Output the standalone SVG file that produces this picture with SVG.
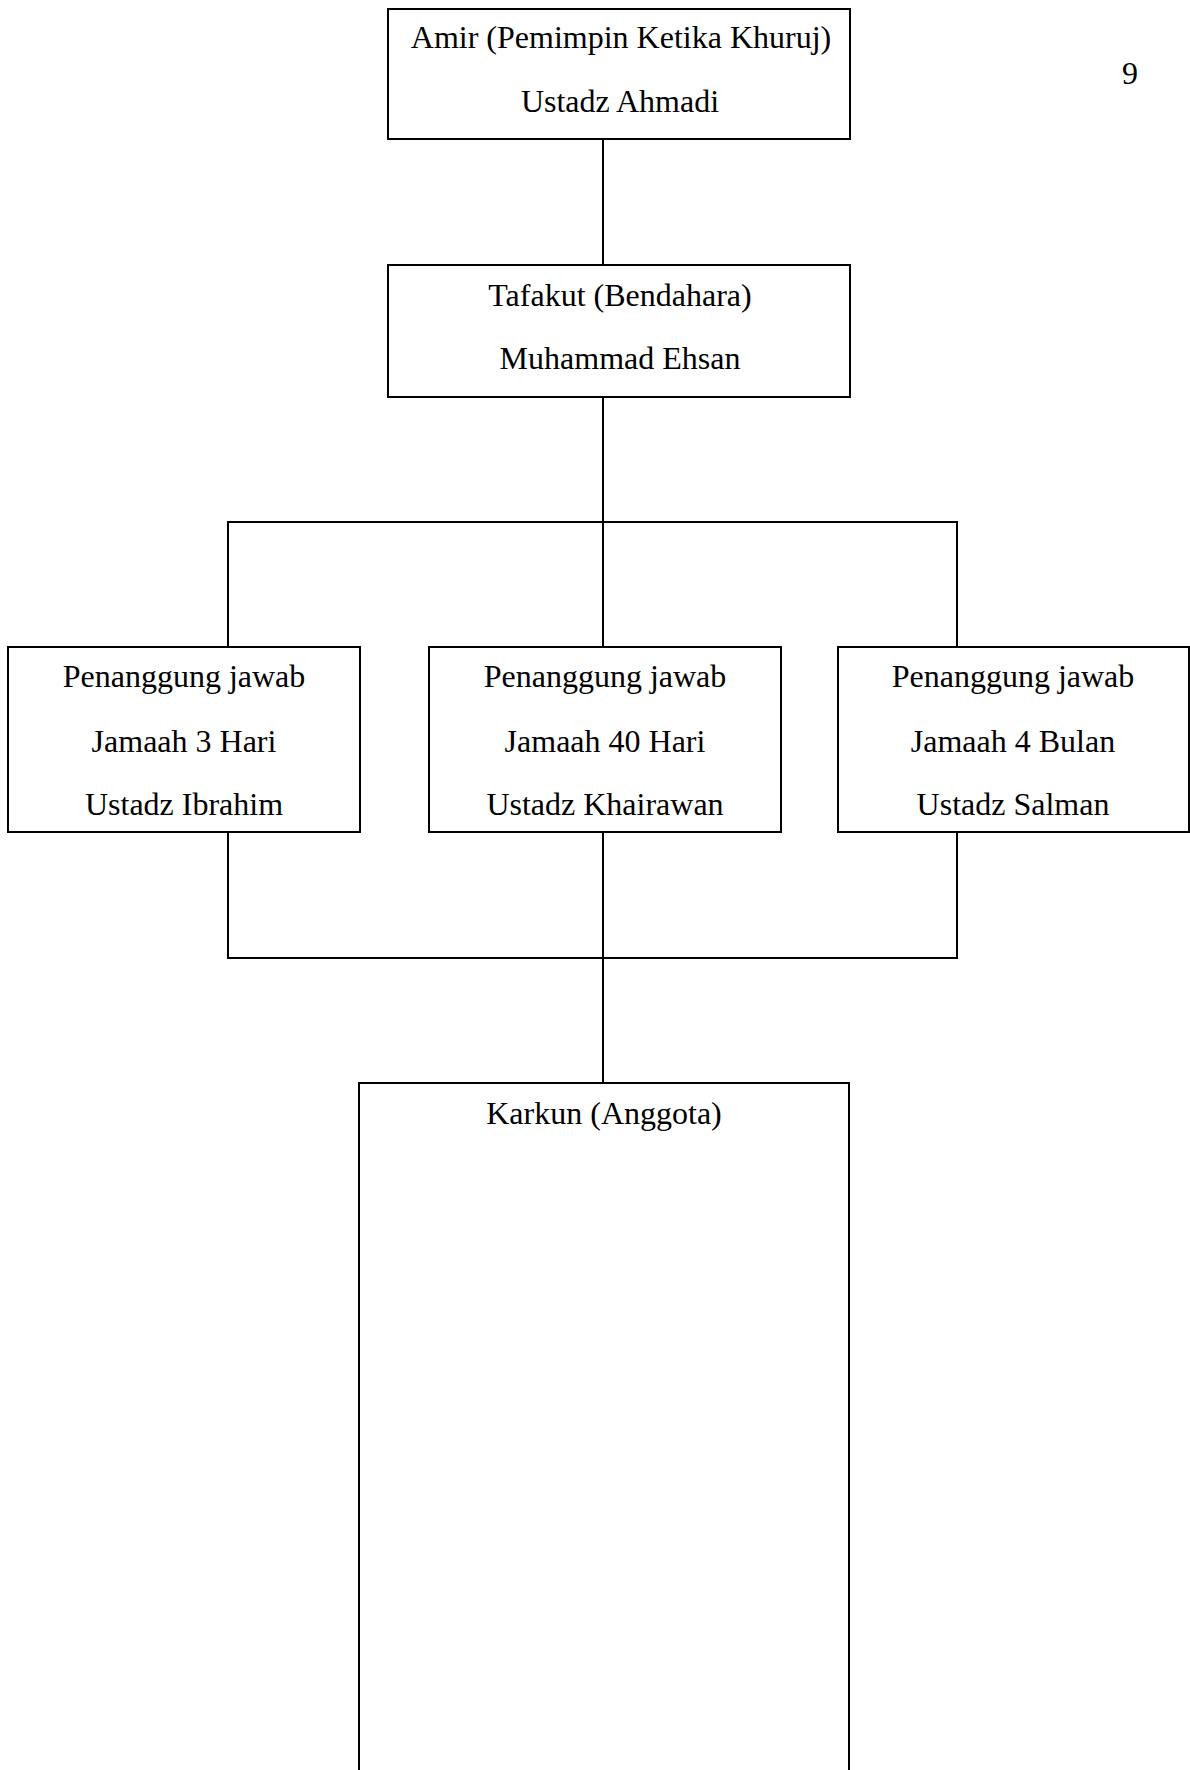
<svg xmlns="http://www.w3.org/2000/svg" width="1190" height="1770" viewBox="0 0 1190 1770">
<style>
.box{fill:#fff;stroke:#000;stroke-width:2}
.c{fill:none;stroke:#000;stroke-width:2}
text{font-family:"Liberation Serif","Times New Roman",serif;font-size:32px;fill:#000;text-anchor:middle}
</style>
<rect width="1190" height="1770" fill="#fff"/>
<g id="connectors">
<line class="c" x1="603" y1="139" x2="603" y2="265"/>
<line class="c" x1="603" y1="397" x2="603" y2="647"/>
<polyline class="c" points="228,647 228,522 957,522 957,647"/>
<polyline class="c" points="228,832 228,958 957,958 957,832"/>
<line class="c" x1="603" y1="832" x2="603" y2="1083"/>
</g>
<g id="amir">
<rect class="box" x="388" y="9" width="462" height="130"/>
<text x="621" y="48">Amir (Pemimpin Ketika Khuruj)</text>
<text x="620" y="112">Ustadz Ahmadi</text>
</g>
<g id="tafakut">
<rect class="box" x="388" y="265" width="462" height="132"/>
<text x="620" y="306">Tafakut (Bendahara)</text>
<text x="620" y="369">Muhammad Ehsan</text>
</g>
<g id="pj3">
<rect class="box" x="8" y="647" width="352" height="185"/>
<text x="184" y="687">Penanggung jawab</text>
<text x="184" y="752">Jamaah 3 Hari</text>
<text x="184" y="815">Ustadz Ibrahim</text>
</g>
<g id="pj40">
<rect class="box" x="429" y="647" width="352" height="185"/>
<text x="605" y="687">Penanggung jawab</text>
<text x="605" y="752">Jamaah 40 Hari</text>
<text x="605" y="815">Ustadz Khairawan</text>
</g>
<g id="pj4">
<rect class="box" x="838" y="647" width="351" height="185"/>
<text x="1013" y="687">Penanggung jawab</text>
<text x="1013" y="752">Jamaah 4 Bulan</text>
<text x="1013" y="815">Ustadz Salman</text>
</g>
<g id="karkun">
<rect class="box" x="359" y="1083" width="490" height="700"/>
<text x="604" y="1124">Karkun (Anggota)</text>
</g>
<text x="1130" y="84">9</text>
</svg>
